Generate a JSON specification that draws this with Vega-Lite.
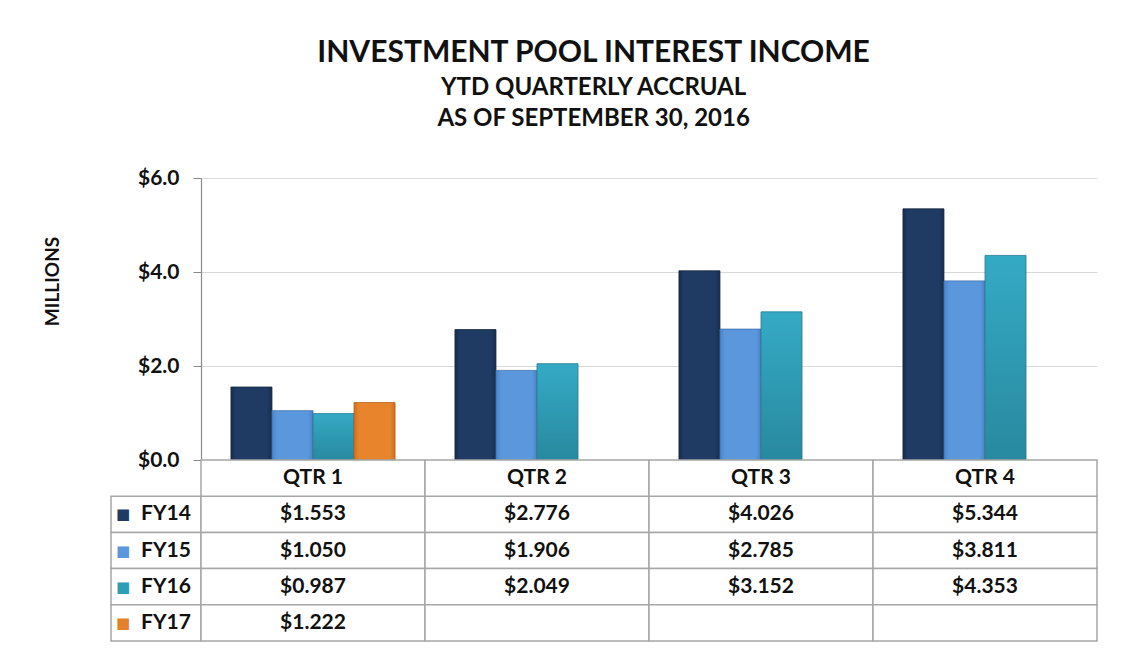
{
  "$schema": "https://vega.github.io/schema/vega-lite/v6.json",
  "background": "white",
  "padding": {"left": 43, "top": 38, "right": 20, "bottom": 10},
  "datasets": {
    "income": [
      {"quarter": "QTR 1", "fy": "FY14", "value": 1.553},
      {"quarter": "QTR 1", "fy": "FY15", "value": 1.050},
      {"quarter": "QTR 1", "fy": "FY16", "value": 0.987},
      {"quarter": "QTR 1", "fy": "FY17", "value": 1.222},
      {"quarter": "QTR 2", "fy": "FY14", "value": 2.776},
      {"quarter": "QTR 2", "fy": "FY15", "value": 1.906},
      {"quarter": "QTR 2", "fy": "FY16", "value": 2.049},
      {"quarter": "QTR 2", "fy": "FY17", "value": null},
      {"quarter": "QTR 3", "fy": "FY14", "value": 4.026},
      {"quarter": "QTR 3", "fy": "FY15", "value": 2.785},
      {"quarter": "QTR 3", "fy": "FY16", "value": 3.152},
      {"quarter": "QTR 3", "fy": "FY17", "value": null},
      {"quarter": "QTR 4", "fy": "FY14", "value": 5.344},
      {"quarter": "QTR 4", "fy": "FY15", "value": 3.811},
      {"quarter": "QTR 4", "fy": "FY16", "value": 4.353},
      {"quarter": "QTR 4", "fy": "FY17", "value": null}
    ],
    "years": [
      {"fy": "FY14"}, {"fy": "FY15"}, {"fy": "FY16"}, {"fy": "FY17"}
    ]
  },
  "title": {
    "text": "INVESTMENT POOL INTEREST INCOME",
    "subtitle": ["YTD QUARTERLY ACCRUAL", "AS OF SEPTEMBER 30, 2016"],
    "anchor": "middle",
    "font": "Lato",
    "fontSize": 30,
    "fontWeight": "bold",
    "color": "#111111",
    "subtitleFont": "Lato",
    "subtitleFontSize": 24,
    "subtitleFontWeight": "bold",
    "subtitleColor": "#111111",
    "subtitleLineHeight": 31,
    "subtitlePadding": 8,
    "offset": 36,
    "dx": 23
  },
  "columns": 2,
  "spacing": 0,
  "bounds": "flush",
  "align": "each",
  "concat": [
    {
      "width": 90,
      "height": 282,
      "data": {"name": "years"},
      "mark": {"type": "text", "text": ""},
      "encoding": {}
    },
    {
      "width": 896,
      "height": 282,
      "data": {"name": "income"},
      "transform": [{"filter": "datum.value != null"}],
      "encoding": {
        "x": {
          "field": "quarter",
          "type": "nominal",
          "sort": ["QTR 1", "QTR 2", "QTR 3", "QTR 4"],
          "scale": {"paddingInner": 0, "paddingOuter": 0},
          "axis": null
        },
        "xOffset": {
          "field": "fy",
          "type": "nominal",
          "scale": {"domain": ["FY14", "FY15", "FY16", "FY17"], "paddingInner": 0, "paddingOuter": 0.73}
        },
        "y": {
          "field": "value",
          "type": "quantitative",
          "scale": {"domain": [0, 6]},
          "axis": {
            "values": [0, 2, 4, 6],
            "format": "$.1f",
            "title": "MILLIONS",
            "titleFont": "Lato",
            "titleFontSize": 19,
            "titleFontWeight": "bold",
            "titleColor": "#111111",
            "titlePadding": 75,
            "titleY": 103,
            "labelFont": "Lato",
            "labelFontSize": 21,
            "labelFontWeight": "bold",
            "labelColor": "#111111",
            "labelPadding": 14,
            "tickSize": 8,
            "tickColor": "#8a8a8a",
            "domainColor": "#8a8a8a",
            "domainWidth": 1.2,
            "gridColor": "#d9d9d9",
            "gridWidth": 1.2
          }
        }
      },
      "layer": [
        {
          "transform": [{"filter": "datum.fy == 'FY14'"}],
          "mark": {"type": "bar", "stroke": "#15293f", "strokeWidth": 0.8,
            "fill": {"gradient": "linear", "x1": 0, "x2": 1, "y1": 0, "y2": 0,
              "stops": [{"offset": 0, "color": "#162c4a"}, {"offset": 0.12, "color": "#1f3b63"}, {"offset": 0.88, "color": "#1f3b63"}, {"offset": 1, "color": "#162c4a"}]}}
        },
        {
          "transform": [{"filter": "datum.fy == 'FY15'"}],
          "mark": {"type": "bar", "stroke": "#3f72ad", "strokeWidth": 0.8,
            "fill": {"gradient": "linear", "x1": 0, "x2": 1, "y1": 0, "y2": 0,
              "stops": [{"offset": 0, "color": "#4b82c4"}, {"offset": 0.12, "color": "#5b97dc"}, {"offset": 0.88, "color": "#5b97dc"}, {"offset": 1, "color": "#4b82c4"}]}}
        },
        {
          "transform": [{"filter": "datum.fy == 'FY16'"}],
          "mark": {"type": "bar", "stroke": "#237b8f", "strokeWidth": 0.8,
            "fill": {"gradient": "linear", "x1": 0, "x2": 0, "y1": 0, "y2": 1,
              "stops": [{"offset": 0, "color": "#35aac5"}, {"offset": 1, "color": "#28899f"}]}}
        },
        {
          "transform": [{"filter": "datum.fy == 'FY17'"}],
          "mark": {"type": "bar", "stroke": "#b5601a", "strokeWidth": 0.8,
            "fill": {"gradient": "linear", "x1": 0, "x2": 1, "y1": 0, "y2": 0,
              "stops": [{"offset": 0, "color": "#d06f1f"}, {"offset": 0.12, "color": "#e8842c"}, {"offset": 0.88, "color": "#e8842c"}, {"offset": 1, "color": "#d06f1f"}]}}
        }
      ]
    },
    {
      "width": 90,
      "height": 181,
      "data": {"name": "years"},
      "encoding": {
        "y": {"field": "fy", "type": "nominal", "scale": {"domain": ["hdr", "FY14", "FY15", "FY16", "FY17"], "paddingInner": 0, "paddingOuter": 0}, "axis": null}
      },
      "layer": [
        {"mark": {"type": "rect", "fill": "white", "stroke": "#a6a6a6", "strokeWidth": 1.5}},
        {
          "mark": {"type": "text", "text": "■", "font": "DejaVu Sans", "fontSize": 15, "dx": -33},
          "encoding": {
            "color": {"field": "fy", "type": "nominal", "scale": {"domain": ["FY14", "FY15", "FY16", "FY17"], "range": ["#1f3b63", "#5b97dc", "#2e9db6", "#e3802a"]}, "legend": null}
          }
        },
        {
          "mark": {"type": "text", "align": "left", "dx": -15, "font": "Lato", "fontSize": 21, "fontWeight": "bold", "color": "#111111"},
          "encoding": {"text": {"field": "fy"}}
        }
      ]
    },
    {
      "width": 896,
      "height": 181,
      "data": {"name": "income"},
      "encoding": {
        "x": {"field": "quarter", "type": "nominal", "sort": ["QTR 1", "QTR 2", "QTR 3", "QTR 4"], "scale": {"paddingInner": 0, "paddingOuter": 0}, "axis": null}
      },
      "layer": [
        {
          "mark": {"type": "rect", "fill": "white", "stroke": "#a6a6a6", "strokeWidth": 1.5},
          "encoding": {
            "y": {"field": "fy", "type": "nominal", "scale": {"domain": ["hdr", "FY14", "FY15", "FY16", "FY17"], "paddingInner": 0, "paddingOuter": 0}, "axis": null}
          }
        },
        {
          "transform": [{"filter": "datum.fy == 'FY14'"}],
          "mark": {"type": "rect", "fill": "white", "stroke": "#a6a6a6", "strokeWidth": 1.5},
          "encoding": {"y": {"datum": "hdr", "type": "nominal"}}
        },
        {
          "transform": [{"filter": "datum.fy == 'FY14'"}],
          "mark": {"type": "text", "font": "Lato", "fontSize": 21, "fontWeight": "bold", "color": "#111111"},
          "encoding": {"y": {"datum": "hdr", "type": "nominal"}, "text": {"field": "quarter"}}
        },
        {
          "transform": [{"filter": "datum.value != null"}],
          "mark": {"type": "text", "font": "Lato", "fontSize": 21, "fontWeight": "bold", "color": "#111111"},
          "encoding": {
            "y": {"field": "fy", "type": "nominal"},
            "text": {"field": "value", "format": "$.3f"}
          }
        }
      ]
    }
  ],
  "config": {
    "view": {"stroke": null},
    "font": "Lato"
  }
}
